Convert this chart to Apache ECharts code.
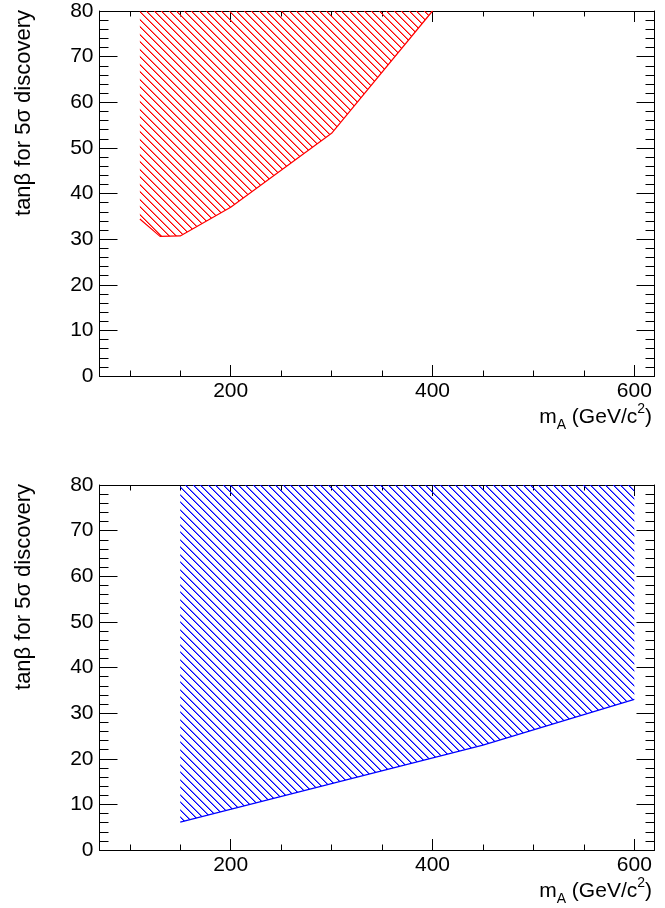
<!DOCTYPE html>
<html>
<head>
<meta charset="utf-8">
<script src="https://cdn.jsdelivr.net/npm/echarts@6/dist/echarts.min.js"></script>
<style>
  html, body { margin: 0; padding: 0; background: #fff; }
  #chart { width: 665px; height: 908px; }
</style>
</head>
<body>
<div id="chart"></div>
<script>
// Discovery regions in the (m_A, tanβ) plane: each curve is the lower edge
// of the 5σ region; the region extends up to tanβ = 80.
const topCurveMass = [110, 130, 150, 200, 300, 400];
const topCurveTanb = [34.4, 30.6, 30.7, 37.0, 53.2, 80];
const bottomCurveMass = [150, 450, 600];
const bottomCurveTanb = [6.1, 23.0, 33.0];

const xMajorTicks = [200, 400, 600];
const xMinorTicks = [100, 150, 250, 300, 350, 450, 500, 550];
const xRange = [70, 620];
const yRange = [0, 80];

const FONT = '"Liberation Sans", Arial, Helvetica, sans-serif';

// Diagonal "\\" hatch tile, two lines per 15px tile (7-8px spacing)
function hatch(color) {
  const c = document.createElement('canvas');
  c.width = 15; c.height = 15;
  const ctx = c.getContext('2d');
  ctx.fillStyle = color;
  for (let x = 0; x < 15; x++) {
    for (const k of [0, 7]) {
      const y = (x + k) % 15;
      ctx.globalAlpha = 1;
      ctx.fillRect(x, y, 1, 1);
      ctx.globalAlpha = 0.55;
      ctx.fillRect((x + 1) % 15, y, 1, 1);
    }
  }
  return c;
}

const grids = [
  { left: 99.5, top: 11, width: 555, height: 365, outerBoundsMode: 'none' },
  { left: 99.5, top: 485, width: 555, height: 365, outerBoundsMode: 'none' }
];

const black = '#000';
const xAxes = [];
const yAxes = [];
grids.forEach((g, gi) => {
  ['bottom', 'top'].forEach(pos => {
    xAxes.push({
      gridIndex: gi, type: 'value', min: xRange[0], max: xRange[1], position: pos,
      axisLine: { show: true, onZero: false, lineStyle: { color: black, width: 1 } },
      axisTick: { show: true, inside: true, length: 11, customValues: xMajorTicks,
                  lineStyle: { color: black, width: 1 } },
      axisLabel: pos === 'bottom'
        ? { show: true, customValues: xMajorTicks, color: black, fontSize: 21,
            fontFamily: FONT, margin: 5 }
        : { show: false },
      splitLine: { show: false }
    });
    xAxes.push({
      gridIndex: gi, type: 'value', min: xRange[0], max: xRange[1], position: pos,
      axisLine: { show: false, onZero: false },
      axisTick: { show: true, inside: true, length: 5.5, customValues: xMinorTicks,
                  lineStyle: { color: black, width: 1 } },
      axisLabel: { show: false },
      splitLine: { show: false }
    });
  });
  ['left', 'right'].forEach(pos => {
    yAxes.push({
      gridIndex: gi, type: 'value', min: yRange[0], max: yRange[1], interval: 10, position: pos,
      axisLine: { show: true, onZero: false, lineStyle: { color: black, width: 1 } },
      axisTick: { show: true, inside: true, length: 18, lineStyle: { color: black, width: 1 } },
      minorTick: { show: true, splitNumber: 5, length: 9, lineStyle: { color: black, width: 1 } },
      axisLabel: pos === 'left'
        ? { show: true, color: black, fontSize: 21, fontFamily: FONT, margin: 6 }
        : { show: false },
      splitLine: { show: false },
      minorSplitLine: { show: false }
    });
  });
});

function zip(xs, ys) { return xs.map((x, i) => [x, ys[i]]); }

const series = [
  {
    type: 'line', xAxisIndex: 0, yAxisIndex: 0,
    data: zip(topCurveMass, topCurveTanb),
    symbol: 'none', silent: true, animation: false,
    lineStyle: { color: '#ff0000', width: 1.2 },
    areaStyle: { origin: 'end', opacity: 1, color: { image: hatch('#ff0000'), repeat: 'repeat' } }
  },
  {
    type: 'line', xAxisIndex: 4, yAxisIndex: 2,
    data: zip(bottomCurveMass, bottomCurveTanb),
    symbol: 'none', silent: true, animation: false,
    lineStyle: { color: '#0000ff', width: 1.2 },
    areaStyle: { origin: 'end', opacity: 1, color: { image: hatch('#0000ff'), repeat: 'repeat' } }
  }
];

// Axis titles
const xTitleRich = {
  t: { fontSize: 21, fontFamily: FONT, color: black, verticalAlign: 'middle', lineHeight: 30 },
  sub: { fontSize: 14, fontFamily: FONT, color: black, verticalAlign: 'bottom', lineHeight: 30 },
  sup: { fontSize: 14, fontFamily: FONT, color: black, verticalAlign: 'top', lineHeight: 30 }
};
const graphics = [];
grids.forEach(g => {
  graphics.push({
    type: 'text', x: 652, y: g.top + g.height + 41,
    style: {
      text: '{t|m}{sub|A}{t| (GeV/c}{sup|2}{t|)}', rich: xTitleRich,
      align: 'right', verticalAlign: 'middle'
    }
  });
  graphics.push({
    type: 'text', x: 24, y: g.top - 1, rotation: Math.PI / 2,
    style: {
      text: 'tanβ for 5σ discovery', fontSize: 22, fontFamily: FONT, fill: black,
      align: 'right', verticalAlign: 'middle'
    }
  });
});

const chart = echarts.init(document.getElementById('chart'), null, { renderer: 'canvas' });
chart.setOption({
  animation: false,
  backgroundColor: '#fff',
  grid: grids,
  xAxis: xAxes,
  yAxis: yAxes,
  series: series,
  graphic: graphics
});
</script>
</body>
</html>
